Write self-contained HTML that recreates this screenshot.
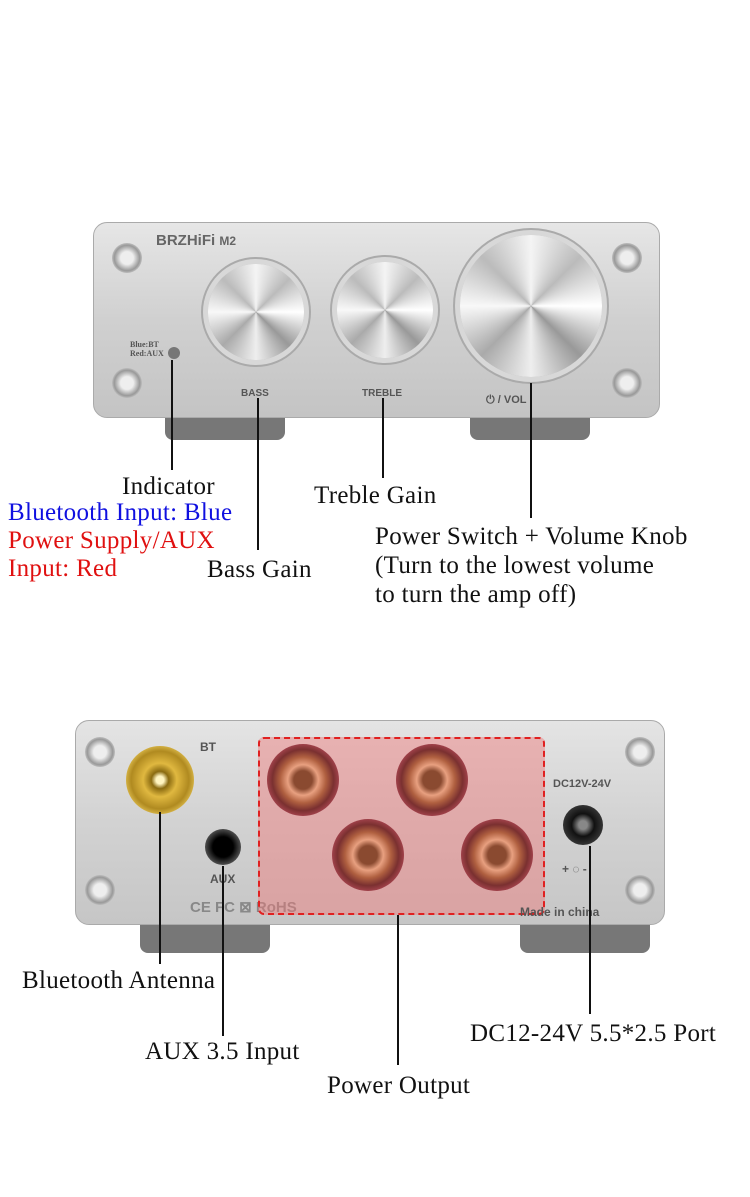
<!DOCTYPE html>
<html><head><meta charset="utf-8"><style>
*{margin:0;padding:0;box-sizing:border-box}
body{width:750px;height:1197px;background:#fff;position:relative;overflow:hidden;font-family:"Liberation Serif",serif}
.a{position:absolute}
.t{position:absolute;font-size:25px;letter-spacing:0.3px;color:#111;white-space:nowrap;line-height:1}
.l{position:absolute;width:2px;background:#111}
.scr{position:absolute;width:30px;height:30px;border-radius:50%;background:radial-gradient(circle,#eee 30%,#999 60%,#ccc 75%,#888 100%)}
.knob{position:absolute;border-radius:50%;background:conic-gradient(#f4f4f4,#bbb,#fff,#999,#eee,#aaa,#f8f8f8,#bbb,#f4f4f4);box-shadow:0 0 0 5px #d8d8d8,0 0 0 7px #aaa}
.term{position:absolute;width:72px;height:72px;border-radius:50%;background:radial-gradient(circle,#8a4a30 18%,#e8a080 30%,#b06040 45%,#7a3030 60%,#c05060 80%,#6a2a30 100%)}
.sm{position:absolute;font-family:"Liberation Sans",sans-serif;font-size:12px;color:#555;font-weight:bold}
</style></head><body>
<!-- front -->
<div class="a" style="left:165px;top:410px;width:120px;height:30px;background:#777;border-radius:0 0 8px 8px"></div>
<div class="a" style="left:470px;top:410px;width:120px;height:30px;background:#777;border-radius:0 0 8px 8px"></div>
<div class="a" style="left:93px;top:222px;width:567px;height:196px;border-radius:14px;background:linear-gradient(#e6e6e6,#d0d0d0 50%,#c4c4c4);border:1px solid #aaa"></div>
<div class="sm" style="left:156px;top:232px;font-size:15px;color:#666">BRZHiFi <span style="font-size:12px">M2</span></div>
<div class="scr" style="left:112px;top:243px"></div><div class="scr" style="left:112px;top:368px"></div>
<div class="scr" style="left:612px;top:243px"></div><div class="scr" style="left:612px;top:368px"></div>
<div class="a" style="left:168px;top:347px;width:12px;height:12px;border-radius:50%;background:#777"></div>
<div class="sm" style="left:130px;top:340px;font-size:8px;font-family:'Liberation Serif',serif">Blue:BT<br>Red:AUX</div>
<div class="knob" style="left:208px;top:264px;width:96px;height:96px"></div>
<div class="knob" style="left:337px;top:262px;width:96px;height:96px"></div>
<div class="knob" style="left:460px;top:235px;width:142px;height:142px"></div>
<div class="sm" style="left:241px;top:388px;font-size:10px">BASS</div>
<div class="sm" style="left:362px;top:388px;font-size:10px">TREBLE</div>
<div class="sm" style="left:486px;top:394px;font-size:11px">⏻ / VOL</div>
<div class="l" style="left:171px;top:360px;height:110px"></div>
<div class="l" style="left:257px;top:398px;height:152px"></div>
<div class="l" style="left:382px;top:398px;height:80px"></div>
<div class="l" style="left:530px;top:383px;height:135px"></div>
<div class="t" style="left:122px;top:474px">Indicator</div>
<div class="t" style="left:8px;top:500px;color:#1010e0">Bluetooth Input: Blue</div>
<div class="t" style="left:8px;top:528px;color:#e01010">Power Supply/AUX</div>
<div class="t" style="left:8px;top:556px;color:#e01010">Input: Red</div>
<div class="t" style="left:207px;top:557px">Bass Gain</div>
<div class="t" style="left:314px;top:483px">Treble Gain</div>
<div class="t" style="left:375px;top:524px">Power Switch + Volume Knob</div>
<div class="t" style="left:375px;top:553px">(Turn to the lowest volume</div>
<div class="t" style="left:375px;top:582px">to turn the amp off)</div>
<!-- rear -->
<div class="a" style="left:140px;top:915px;width:130px;height:38px;background:#777;border-radius:0 0 8px 8px"></div>
<div class="a" style="left:520px;top:915px;width:130px;height:38px;background:#777;border-radius:0 0 8px 8px"></div>
<div class="a" style="left:75px;top:720px;width:590px;height:205px;border-radius:14px;background:linear-gradient(#e4e4e4,#d2d2d2 50%,#c6c6c6);border:1px solid #aaa"></div>
<div class="scr" style="left:85px;top:737px"></div><div class="scr" style="left:85px;top:875px"></div>
<div class="scr" style="left:625px;top:737px"></div><div class="scr" style="left:625px;top:875px"></div>
<div class="a" style="left:126px;top:746px;width:68px;height:68px;border-radius:50%;background:radial-gradient(circle,#fff4c0 8%,#8a6a10 18%,#e0b840 35%,#b08a20 60%,#f0d060 80%,#8a6a10 100%)"></div>
<div class="sm" style="left:200px;top:740px">BT</div>
<div class="a" style="left:205px;top:829px;width:36px;height:36px;border-radius:50%;background:radial-gradient(circle,#000 40%,#333 60%,#999 100%)"></div>
<div class="sm" style="left:210px;top:872px">AUX</div>
<div class="sm" style="left:190px;top:898px;font-size:15px;color:#888">CE FC ⊠ RoHS</div>
<div class="a" style="left:258px;top:737px;width:287px;height:178px;border:2px dashed #e02020;background:rgba(240,120,120,0.45);border-radius:6px"></div>
<div class="term" style="left:267px;top:744px"></div><div class="term" style="left:396px;top:744px"></div>
<div class="term" style="left:332px;top:819px"></div><div class="term" style="left:461px;top:819px"></div>
<div class="sm" style="left:520px;top:905px">Made in china</div>
<div class="sm" style="left:553px;top:778px;font-size:11px">DC12V-24V</div>
<div class="a" style="left:563px;top:805px;width:40px;height:40px;border-radius:50%;background:radial-gradient(circle,#888 15%,#111 40%,#333 70%,#999 100%)"></div>
<div class="sm" style="left:562px;top:862px">+ ◌ -</div>
<div class="l" style="left:159px;top:812px;height:152px"></div>
<div class="l" style="left:222px;top:866px;height:170px"></div>
<div class="l" style="left:397px;top:915px;height:150px"></div>
<div class="l" style="left:589px;top:846px;height:168px"></div>
<div class="t" style="left:22px;top:968px">Bluetooth Antenna</div>
<div class="t" style="left:145px;top:1039px">AUX 3.5 Input</div>
<div class="t" style="left:327px;top:1073px">Power Output</div>
<div class="t" style="left:470px;top:1021px">DC12-24V 5.5*2.5 Port</div>
</body></html>
